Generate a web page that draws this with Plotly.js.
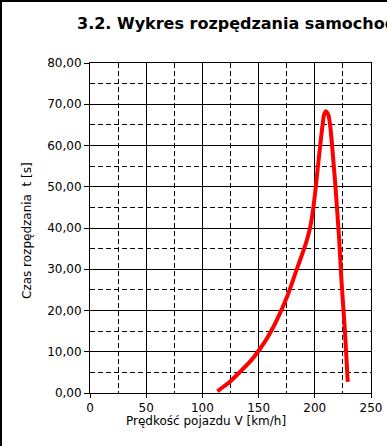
<!DOCTYPE html>
<html>
<head>
<meta charset="utf-8">
<script src="https://cdn.plot.ly/plotly-3.0.1.min.js"></script>
<style>
html,body{margin:0;padding:0;background:#fff;}
#wrap{position:relative;width:387px;height:446px;}
#chart{position:absolute;left:0;top:0;width:387px;height:446px;}
#frame{position:absolute;left:0;top:0;width:385px;height:444px;border-left:2px solid #000;border-top:2px solid #000;pointer-events:none;}
</style>
</head>
<body>
<div id="wrap"><div id="chart"></div><div id="frame"></div></div>
<script>
// Prędkość pojazdu V [km/h]
const speedV = [113.5, 118, 124, 133, 143, 151, 159.5, 168.5, 176, 183.3, 189.5, 193.3, 196.2, 198.5, 200.5, 202.8, 204.8, 206.9, 208.2, 209.9,
                212.1, 213.6, 215.4, 216.9, 218.4, 219.7, 221.5, 223.9, 226.9, 229.3];
// Czas rozpędzania t [s]
const timeT = [0.4, 1.4, 2.6, 5.0, 7.8, 10.6, 14.2, 19.0, 23.8, 29.5, 34.2, 37.4, 40.6, 44.5, 49.0, 55, 60, 65, 67.4, 68.3,
               67.4, 65, 60, 55, 50, 45, 38, 26.6, 14.5, 2.7];
const xTicks = [0, 50, 100, 150, 200, 250];
const yTicks = [0, 10, 20, 30, 40, 50, 60, 70, 80];

const font = 'DejaVu Sans, sans-serif';

Plotly.newPlot('chart', [{
  x: speedV, y: timeT, type: 'scatter', mode: 'lines',
  line: {color: '#ff0000', width: 4, shape: 'spline', smoothing: 0.5},
  hoverinfo: 'skip'
}], {
  width: 387, height: 446,
  margin: {l: 90, r: 16, t: 63, b: 53},
  paper_bgcolor: '#fff', plot_bgcolor: '#fff',
  separators: ', ',
  showlegend: false,
  font: {family: font, size: 12, color: '#000'},
  title: {text: '<b>3.2. Wykres rozpędzania samochodu</b>', x: 77/387, xanchor: 'left', xref: 'container',
          y: 1 - 23.5/446, yanchor: 'middle', yref: 'container',
          font: {family: font, size: 16, color: '#000'}},
  xaxis: {range: [0, 250], tickvals: xTicks, ticktext: xTicks.map(String), tickmode: 'array',
          showgrid: true, gridcolor: '#000', gridwidth: 1,
          minor: {dtick: 25, tick0: 0, showgrid: true, gridcolor: '#000', gridwidth: 1, griddash: '5px,3px', ticks: ''},
          showline: true, linecolor: '#000', linewidth: 1, mirror: true,
          ticks: 'outside', ticklen: 4, tickcolor: '#000', tickwidth: 1,
          zeroline: false, fixedrange: true, tickfont: {family: font, size: 12, color: '#000'}},
  yaxis: {range: [0, 80], tickvals: yTicks, tickmode: 'array', tickformat: '.2f',
          showgrid: true, gridcolor: '#000', gridwidth: 1,
          minor: {dtick: 5, tick0: 0, showgrid: true, gridcolor: '#000', gridwidth: 1, griddash: '5px,3px', ticks: ''},
          showline: true, linecolor: '#000', linewidth: 1, mirror: true,
          ticks: 'outside', ticklen: 5, tickcolor: '#000', tickwidth: 1,
          zeroline: false, fixedrange: true, tickfont: {family: font, size: 12, color: '#000'}},
  annotations: [
    {text: 'Prędkość pojazdu V [km/h]', xref: 'paper', yref: 'paper',
     x: (205.5 - 90) / 281, y: (393 - 421) / 330, xanchor: 'center', yanchor: 'middle',
     showarrow: false, font: {family: font, size: 12, color: '#000'}},
    {text: 'Czas rozpędzania\u00a0 t [s]', xref: 'paper', yref: 'paper', textangle: -90,
     x: (27 - 90) / 281, y: (393 - 231) / 330, xanchor: 'center', yanchor: 'middle',
     showarrow: false, font: {family: font, size: 12, color: '#000'}}
  ]
}, {staticPlot: true, displayModeBar: false});
</script>
</body>
</html>
